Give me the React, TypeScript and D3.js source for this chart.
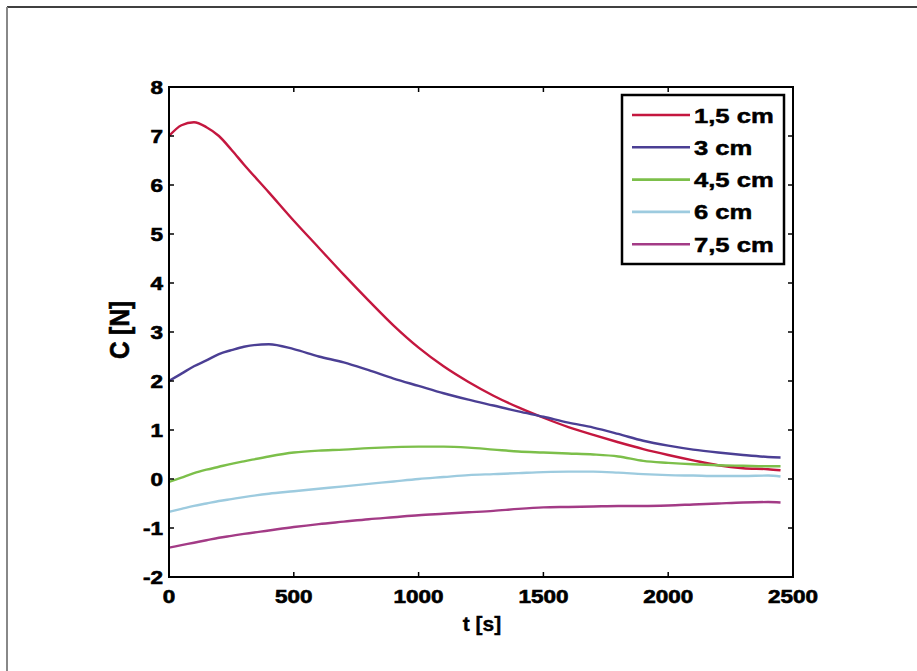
import React from "react";
import * as d3 from "d3";

// Time axis (s) shared by all series
const times = [0, 50, 100, 150, 200, 250, 300, 400, 500, 600, 700, 800, 900, 1000, 1100, 1200, 1300, 1400, 1500, 1600, 1700, 1800, 1900, 2000, 2100, 2200, 2300, 2400, 2450];

const red15 = [7.0, 7.22, 7.28, 7.18, 7.0, 6.72, 6.42, 5.85, 5.27, 4.72, 4.17, 3.64, 3.13, 2.68, 2.3, 1.98, 1.7, 1.46, 1.25, 1.06, 0.9, 0.75, 0.61, 0.49, 0.38, 0.28, 0.22, 0.2, 0.18];
const blue3 = [2.0, 2.15, 2.3, 2.42, 2.55, 2.63, 2.7, 2.75, 2.65, 2.5, 2.38, 2.22, 2.05, 1.9, 1.75, 1.62, 1.5, 1.38, 1.27, 1.15, 1.05, 0.92, 0.78, 0.68, 0.6, 0.54, 0.49, 0.45, 0.44];
const green45 = [-0.06, 0.03, 0.12, 0.19, 0.25, 0.31, 0.36, 0.46, 0.54, 0.58, 0.6, 0.63, 0.65, 0.66, 0.66, 0.64, 0.6, 0.56, 0.54, 0.52, 0.5, 0.46, 0.37, 0.33, 0.3, 0.28, 0.27, 0.26, 0.26];
const cyan6 = [-0.67, -0.61, -0.55, -0.5, -0.45, -0.41, -0.37, -0.3, -0.25, -0.2, -0.15, -0.1, -0.05, 0.0, 0.04, 0.08, 0.1, 0.12, 0.14, 0.15, 0.15, 0.13, 0.1, 0.08, 0.07, 0.06, 0.06, 0.07, 0.05];
const magenta75 = [-1.4, -1.35, -1.3, -1.25, -1.2, -1.16, -1.12, -1.05, -0.98, -0.92, -0.87, -0.82, -0.78, -0.74, -0.71, -0.68, -0.65, -0.61, -0.58, -0.57, -0.56, -0.55, -0.55, -0.54, -0.52, -0.5, -0.48, -0.47, -0.48];

const seriesNames = ["1,5 cm", "3 cm", "4,5 cm", "6 cm", "7,5 cm"];
const seriesValues = [red15, blue3, green45, cyan6, magenta75];
const seriesColors = ["#c4173f", "#4b3f94", "#7cbf4a", "#9dcbdf", "#a33b86"];

const xTicks = [0, 500, 1000, 1500, 2000, 2500];
const yTicks = [-2, -1, 0, 1, 2, 3, 4, 5, 6, 7, 8];
const xLabel = "t [s]";
const yLabel = "C [N]";

const W = 917;
const H = 671;
const plot = { left: 169, right: 793, top: 87, bottom: 577 };
const FONT = "'Liberation Sans', Arial, Helvetica, sans-serif";

export default function App() {
  const x = d3.scaleLinear().domain([0, 2500]).range([plot.left, plot.right]);
  const y = d3.scaleLinear().domain([-2, 8]).range([plot.bottom, plot.top]);

  const line = d3
    .line<number>()
    .x((_, i) => x(times[i]))
    .y((d) => y(d))
    .curve(d3.curveMonotoneX);

  const legend = { x: 622, y: 95, w: 162, h: 169, row: 32.3, first: 20 };

  return (
    <svg
      width={W}
      height={H}
      style={{ position: "absolute", left: 0, top: 0, background: "#fff" }}
    >
      {/* page frame */}
      <line x1={7} y1={7} x2={W} y2={7} stroke="#000" strokeWidth={1.5} />
      <line x1={7} y1={7} x2={7} y2={H} stroke="#888" strokeWidth={2} />

      <defs>
        <clipPath id="plotClip">
          <rect x={plot.left} y={plot.top} width={plot.right - plot.left} height={plot.bottom - plot.top} />
        </clipPath>
      </defs>

      {/* series */}
      <g clipPath="url(#plotClip)">
        {seriesValues.map((vals, k) => (
          <path
            key={k}
            d={line(vals) || ""}
            fill="none"
            stroke={seriesColors[k]}
            strokeWidth={2.4}
            strokeLinejoin="round"
          />
        ))}
      </g>

      {/* axes box */}
      <rect
        x={plot.left}
        y={plot.top}
        width={plot.right - plot.left}
        height={plot.bottom - plot.top}
        fill="none"
        stroke="#000"
        strokeWidth={2}
      />

      {/* x ticks and labels */}
      {xTicks.map((t) => (
        <g key={"x" + t}>
          <line x1={x(t)} x2={x(t)} y1={plot.bottom} y2={plot.bottom - 5} stroke="#000" strokeWidth={1.5} />
          <line x1={x(t)} x2={x(t)} y1={plot.top} y2={plot.top + 5} stroke="#000" strokeWidth={1.5} />
          <g transform={`translate(${x(t)},603)`}>
            <text
              transform="scale(1.25,1)"
              textAnchor="middle"
              fontFamily={FONT}
              fontWeight="bold"
              fontSize={18}
              stroke="#000"
              strokeWidth={0.6}
            >
              {String(t)}
            </text>
          </g>
        </g>
      ))}

      {/* y ticks and labels */}
      {yTicks.map((v) => (
        <g key={"y" + v}>
          <line x1={plot.left} x2={plot.left + 5} y1={y(v)} y2={y(v)} stroke="#000" strokeWidth={1.5} />
          <line x1={plot.right} x2={plot.right - 5} y1={y(v)} y2={y(v)} stroke="#000" strokeWidth={1.5} />
          <g transform={`translate(163,${y(v) + 6.5})`}>
            <text
              transform="scale(1.25,1)"
              textAnchor="end"
              fontFamily={FONT}
              fontWeight="bold"
              fontSize={18}
              stroke="#000"
              strokeWidth={0.6}
            >
              {String(v)}
            </text>
          </g>
        </g>
      ))}

      {/* axis titles */}
      <text
        x={482}
        y={631}
        textAnchor="middle"
        fontFamily={FONT}
        fontWeight="bold"
        fontSize={21}
        stroke="#000"
        strokeWidth={0.4}
      >
        {xLabel}
      </text>
      <g transform={`translate(129,330) rotate(-90) scale(0.87,1)`}>
        <text
          textAnchor="middle"
          fontFamily={FONT}
          fontWeight="bold"
          fontSize={28}
          stroke="#000"
          strokeWidth={0.6}
        >
          {yLabel}
        </text>
      </g>

      {/* legend */}
      <rect x={legend.x} y={legend.y} width={legend.w} height={legend.h} fill="#fff" stroke="#000" strokeWidth={2.5} />
      {seriesNames.map((name, k) => {
        const ly = legend.y + legend.first + k * legend.row;
        return (
          <g key={name}>
            <line x1={632} x2={690} y1={ly} y2={ly} stroke={seriesColors[k]} strokeWidth={2.6} />
            <g transform={`translate(694,${ly + 7.5})`}>
              <text
                transform="scale(1.22,1)"
                fontFamily={FONT}
                fontWeight="bold"
                fontSize={21}
                stroke="#000"
                strokeWidth={0.5}
              >
                {name}
              </text>
            </g>
          </g>
        );
      })}
    </svg>
  );
}
